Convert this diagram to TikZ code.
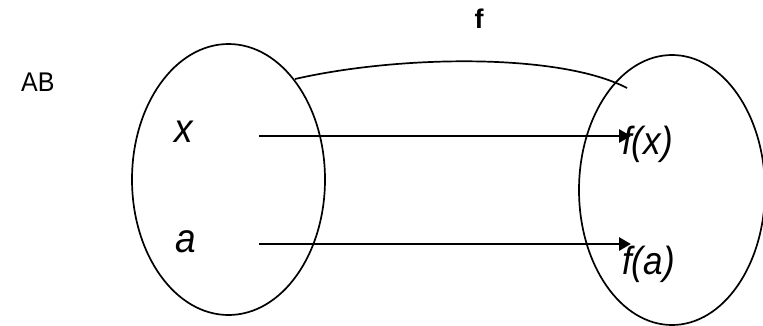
\documentclass[tikz,border=0pt]{standalone}
\usepackage{fontspec}
\setmainfont{Liberation Sans}
\usetikzlibrary{arrows.meta}
\begin{document}
\begin{tikzpicture}[x=1pt,y=-1pt,
  setline/.style={line width=1.7pt},
  maparrow/.style={line width=2.8pt,-{Triangle[length=12pt,width=13pt]}},
  elem/.style={inner sep=0pt,anchor=base west,yscale=1.1,font=\fontsize{37}{40}\selectfont\itshape},
  image/.style={inner sep=0pt,anchor=base west,yscale=1.12,font=\fontsize{35}{38}\selectfont\itshape}]
\useasboundingbox (0,0) rectangle (763,325);
\clip (0,0) rectangle (763,325);

% the two sets
\draw[setline] (228.5,179.5) ellipse [x radius=96.5, y radius=135.5];
\draw[setline] (672,190) ellipse [x radius=93, y radius=135];

% labels
\node[inner sep=0pt,anchor=base west,yscale=1.08,font=\fontsize{25}{28}\selectfont] (ab) at (21,91) {AB};
\node[inner sep=0pt,anchor=base,font=\fontsize{27}{30}\selectfont\bfseries] (fname) at (479,28) {f};

% elements and their images
\node[elem] (x) at (174,142) {x};
\node[elem] (a) at (175,252) {a};
\node[image] (fx) at (622,154) {f(x)};
\node[image] (fa) at (622,274) {f(a)};

% arrow ends
\coordinate (xs) at (259,136);
\coordinate (xe) at (631,136);
\coordinate (as) at (259,244);
\coordinate (ae) at (631,244);
\draw[maparrow] (xs) -- (xe);
\draw[maparrow] (as) -- (ae);

% the arc joining the sets
\coordinate (cs) at (295,79);
\coordinate (ce) at (627,88);
\draw[setline] (cs) .. controls (400,55) and (560,53) .. (ce);
\end{tikzpicture}
\end{document}
